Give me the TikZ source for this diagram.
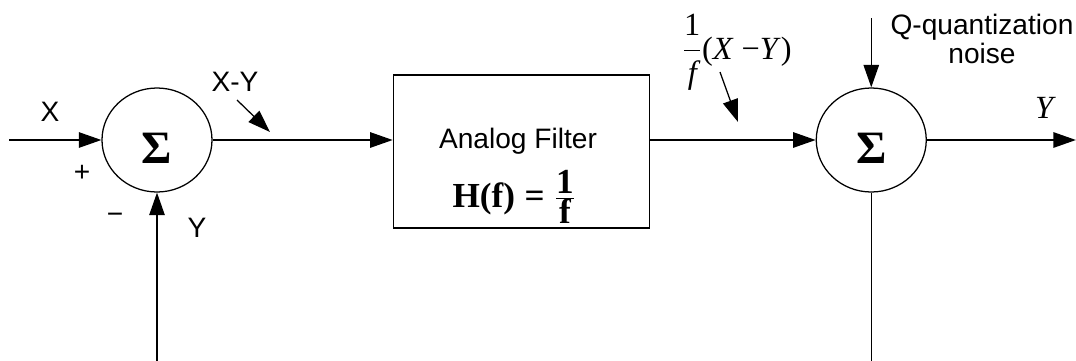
\documentclass[tikz,border=0pt]{standalone}
\usepackage{fontspec}
\setsansfont{Liberation Sans}
\newfontfamily\timesfont{Liberation Serif}
\usetikzlibrary{arrows.meta,positioning,shapes.geometric}

\begin{document}
\begin{tikzpicture}[line width=0.9pt,>={Triangle[length=16pt,width=11pt]}]
  \tikzstyle{sumnode}=[draw,ellipse,minimum width=2.75cm,minimum height=2.6cm,inner sep=0pt,
    text height=1.15cm,text depth=0pt,font=\timesfont\bfseries\fontsize{33}{34}\selectfont]
  \tikzstyle{filterbox}=[draw,minimum width=6.4cm,minimum height=3.825cm]
  \tikzstyle{lbl}=[font=\sffamily\fontsize{20}{21}\selectfont,align=center,inner sep=0pt]
  \tikzstyle{mathlbl}=[font=\timesfont\fontsize{23}{26}\selectfont,inner sep=0pt]
  \useasboundingbox (-3.925,-5.5) rectangle (22.975,3.5);
  % blocks
  \node[sumnode] (sum1) {Σ};
  \node[filterbox,right=4.5cm of sum1,yshift=-0.2875cm] (filter) {};
  \node[sumnode,right=15.075cm of sum1] (sum2) {Σ};
  \node[lbl,anchor=base] (ftitle) at (9.025,-0.2) {Analog Filter};
  \node[mathlbl,anchor=base,font=\timesfont\bfseries\fontsize{25}{30}\selectfont] (hf) at (8.925,-1.675)
    {$\hbox{H(f)}\mathrel{\hbox{=}}\frac{\hbox{1}}{\hbox{f}}$};
  % free ends
  \coordinate[left=2.3cm of sum1] (xin);
  \coordinate[below=4.2cm of sum1] (fb1);
  \coordinate[above=1.725cm of sum2] (qin);
  \coordinate[below=4.2cm of sum2] (fb2);
  \coordinate[right=3.725cm of sum2] (yout);
  % labels
  \node[lbl] (xlbl) at (-2.675,0.7) {X};
  \node[lbl] (plus) at (-1.875,-0.825) {+};
  \node[lbl] (minus) at (-1.05,-1.95) {−};
  \node[lbl] (ylbl) at (1.0,-2.2) {Y};
  \node[lbl] (xylbl) at (1.95,1.45) {X-Y};
  \coordinate (xyfrom) at (2.0,1.0);
  \coordinate (xyto) at (2.825,0.2);
  \node[mathlbl] (flbl) at (14.5,2.2)
    {$\displaystyle\frac{\hbox{1}}{\hbox{\itshape f}}$(\textit{X} −\textit{Y})};
  \coordinate (ffrom) at (14.075,1.7);
  \coordinate (fto) at (14.525,0.45);
  \node[lbl] (qlbl) at (20.625,2.525) {Q-quantization\\noise};
  \node[mathlbl,font=\timesfont\itshape\fontsize{23}{26}\selectfont] (youtlbl) at (22.175,0.8) {Y};
  % signals
  \draw[->] (xin) -- (sum1.west);
  \draw[->] (sum1.east) -- (sum1.east -| filter.west);
  \draw[->] (sum1.east -| filter.east) -- (sum2.west);
  \draw[->] (sum2.east) -- (yout);
  \draw[->] (qin) -- (sum2.north);
  \draw[->] (fb1) -- (sum1.south);
  \draw (sum2.south) -- (fb2);
  \draw[->] (xyfrom) -- (xyto);
  \draw[->] (ffrom) -- (fto);
\end{tikzpicture}
\end{document}
